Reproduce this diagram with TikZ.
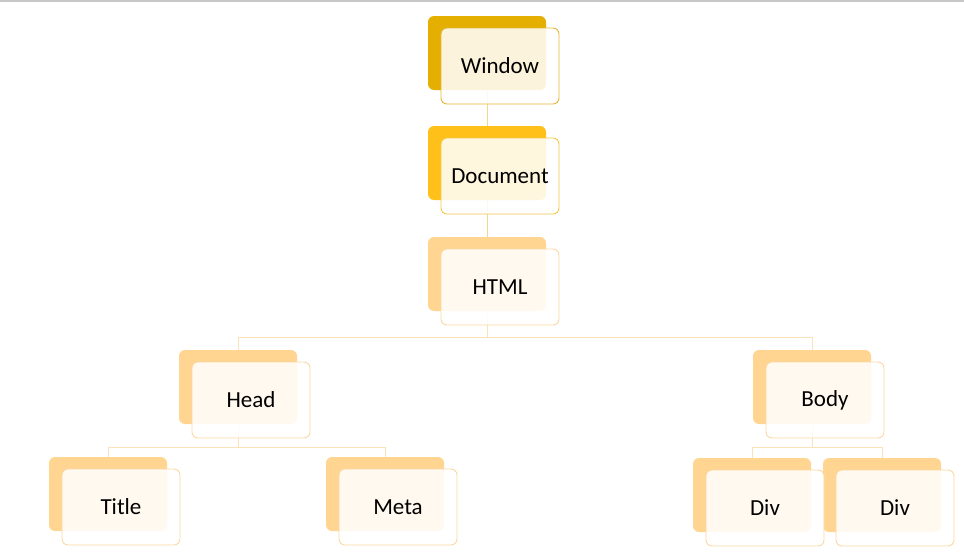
\documentclass[tikz,border=0pt]{standalone}
\usepackage{fontspec}
\setmainfont{Carlito}
\usetikzlibrary{positioning}
\usetikzlibrary{backgrounds}

\definecolor{goldDark}{HTML}{E5AF02}
\definecolor{goldMid}{HTML}{FFC119}
\definecolor{goldLight}{HTML}{FFD591}
\definecolor{edgeDark}{HTML}{E3B63A}
\definecolor{edgeMid}{HTML}{F3C84A}
\definecolor{edgeLight}{HTML}{FAD9A3}
\definecolor{linkDark}{HTML}{F0D690}
\definecolor{linkLight}{HTML}{FBE2BA}

\begin{document}
\begin{tikzpicture}[
    x=1pt, y=-1pt,
    back/.style={rectangle, rounded corners=6pt, minimum width=118pt, minimum height=74pt, inner sep=0pt, fill=goldLight},
    front/.style={rectangle, rounded corners=6pt, minimum width=118pt, minimum height=76pt, inner sep=0pt, draw=edgeLight, line width=0.9pt, fill=white, fill opacity=0.86, text opacity=1, font=\fontsize{23}{28}\selectfont},
    link/.style={draw=linkLight, line width=1pt}
]
\useasboundingbox (0,0) rectangle (964,554);
\draw[black!22, line width=1.5pt] (0,0.75) -- (964,0.75);

% Back cards
\node[back, fill=goldDark] (win) at (487,53) {};
\node[back, fill=goldMid] (doc) at (487,163) {};
\node[back] (html) at (487,274) {};
\node[back] (head) at (238,387) {};
\node[back] (body) at (812,387) {};
\node[back] (title) at (108,494) {};
\node[back] (meta) at (385,494) {};
\node[back] (divA) at (752,495) {};
\node[back] (divB) at (882,495) {};

% Front cards with labels
\node[front, draw=edgeDark] (win-f) at ([shift={(13,13)}]win.center) {Window};
\node[front, draw=edgeMid] (doc-f) at ([shift={(13,13)}]doc.center) {Document};
\foreach \n/\t in {html/HTML, head/Head, body/Body, title/Title, meta/Meta, divA/Div, divB/Div} {
   \node[front] (\n-f) at ([shift={(13,13)}]\n.center) {\t};
}

% Connectors
\begin{scope}[on background layer]
\draw[link, draw=linkDark] (win.south) -- (doc.north);
\draw[link, draw=linkDark] (doc.south) -- (html.north);
\draw[link] (html.south) -- ++(0,26) -| (head.north);
\draw[link] (html.south) -- ++(0,26) -| (body.north);
\draw[link] (head.south) -- ++(0,23) -| (title.north);
\draw[link] (head.south) -- ++(0,23) -| (meta.north);
\draw[link] (body.south) -- ++(0,23) -| (divA.north);
\draw[link] (body.south) -- ++(0,23) -| (divB.north);
\end{scope}

\end{tikzpicture}
\end{document}
